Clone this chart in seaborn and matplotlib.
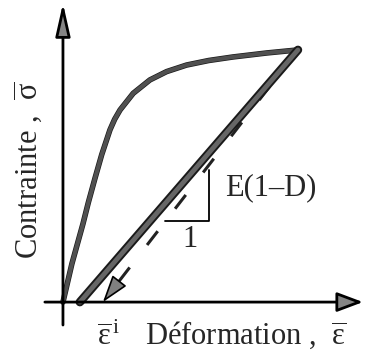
import numpy as np
import pandas as pd
import matplotlib
matplotlib.use("Agg")
import matplotlib.pyplot as plt
import matplotlib.patheffects as pe
import seaborn as sns

# strain / stress, normalised so the peak is (1, 1)
strain_load = [0, 0.038, 0.085, 0.108, 0.136, 0.165, 0.200, 0.220, 0.243, 0.299, 0.370,
               0.441, 0.526, 0.620, 0.723, 0.868, 1.0]
stress_load = [0, 0.152, 0.310, 0.395, 0.490, 0.585, 0.683, 0.725, 0.762, 0.828, 0.881,
               0.914, 0.940, 0.958, 0.972, 0.988, 1.0]

strain_unload = [1.0, 0.072]
stress_unload = [1.0, 0.0]

strain_elastic = [1.0, 0.17]   # dashed line ending at eps_i
stress_elastic = [1.0, 0.0]

tri_strain = [0.434, 0.621, 0.621]
tri_stress = [0.321, 0.321, 0.524]

x_axis = [-0.077, 1.277]
y_axis = [-0.091, 1.185]
xlim = (-0.268, 1.294)
ylim = (-0.198, 1.198)

sns.set_style("white")
plt.rcParams["font.family"] = ["Liberation Serif", "DejaVu Serif"]
plt.rcParams["mathtext.fontset"] = "custom"
plt.rcParams["mathtext.rm"] = "Liberation Serif"
plt.rcParams["mathtext.it"] = "Liberation Serif:italic"

fig = plt.figure(figsize=(3.67, 3.52), dpi=100)
ax = fig.add_axes([0, 0, 1, 1])

load = pd.DataFrame({"strain": strain_load, "stress": stress_load})
unload = pd.DataFrame({"strain": strain_unload, "stress": stress_unload})
elastic = pd.DataFrame({"strain": strain_elastic, "stress": stress_elastic})

# axes with arrow heads
axis_arrow = dict(arrowstyle="-|>,head_length=20,head_width=4.5", mutation_scale=1,
                  lw=2, ec="black", fc="#858585", shrinkA=0, shrinkB=0)
ax.annotate("", xy=(0, y_axis[1]), xytext=(0, y_axis[0]), arrowprops=axis_arrow)
x_arrow = dict(axis_arrow, arrowstyle="-|>,head_length=16,head_width=6")
ax.annotate("", xy=(x_axis[1], 0), xytext=(x_axis[0], 0), arrowprops=x_arrow)

# dashed elastic line + arrowhead at eps_i
sns.lineplot(data=elastic, x="strain", y="stress", sort=False, ax=ax,
             color="#222222", lw=2.2, dashes=False)
ax.lines[-1].set_dashes((5.7, 9.3))
tip = (strain_elastic[1], stress_elastic[1])
back = (strain_elastic[1] + 0.085 * (strain_elastic[0] - strain_elastic[1]),
        stress_elastic[1] + 0.085 * (stress_elastic[0] - stress_elastic[1]))
ax.annotate("", xy=tip, xytext=back,
            arrowprops=dict(arrowstyle="-|>,head_length=17,head_width=5.5", mutation_scale=1,
                            lw=1.2, ec="black", fc="#808080", shrinkA=0, shrinkB=0))

# loading curve
sns.lineplot(data=load, x="strain", y="stress", sort=False, ax=ax,
             color="#505050", lw=3.0,
             path_effects=[pe.Stroke(linewidth=4.0, foreground="#1a1a1a"), pe.Normal()])

# unloading band
sns.lineplot(data=unload, x="strain", y="stress", sort=False, ax=ax,
             color="#666666", lw=3.4,
             path_effects=[pe.Stroke(linewidth=6.2, foreground="#1a1a1a"), pe.Normal()])

# slope triangle
ax.plot(tri_strain, tri_stress, color="black", lw=1.3)
ax.text(0.69, 0.455, "E(1\u2013D)", fontsize=22, ha="left", va="center")
ax.text(0.54, 0.25, "1", fontsize=22, ha="center", va="center")

# labels
ax.text(0.349, -0.167, r"Déformation ,  $\overline{\mathrm{\varepsilon}}$", fontsize=22,
        ha="left", va="baseline")
ax.text(0.145, -0.167, r"$\overline{\mathrm{\varepsilon}}^{\,\mathrm{i}}$", fontsize=22,
        ha="left", va="baseline")
ax.text(-0.149, 0.524, r"Contrainte ,  $\overline{\mathrm{\sigma}}$", fontsize=22,
        rotation=90, ha="center", va="center")

ax.set_xlim(*xlim)
ax.set_ylim(*ylim)
ax.set_xlabel("")
ax.set_ylabel("")
ax.set_xticks([])
ax.set_yticks([])
for s in ax.spines.values():
    s.set_visible(False)
if ax.get_legend():
    ax.get_legend().remove()

fig.savefig("out.png", dpi=100)
